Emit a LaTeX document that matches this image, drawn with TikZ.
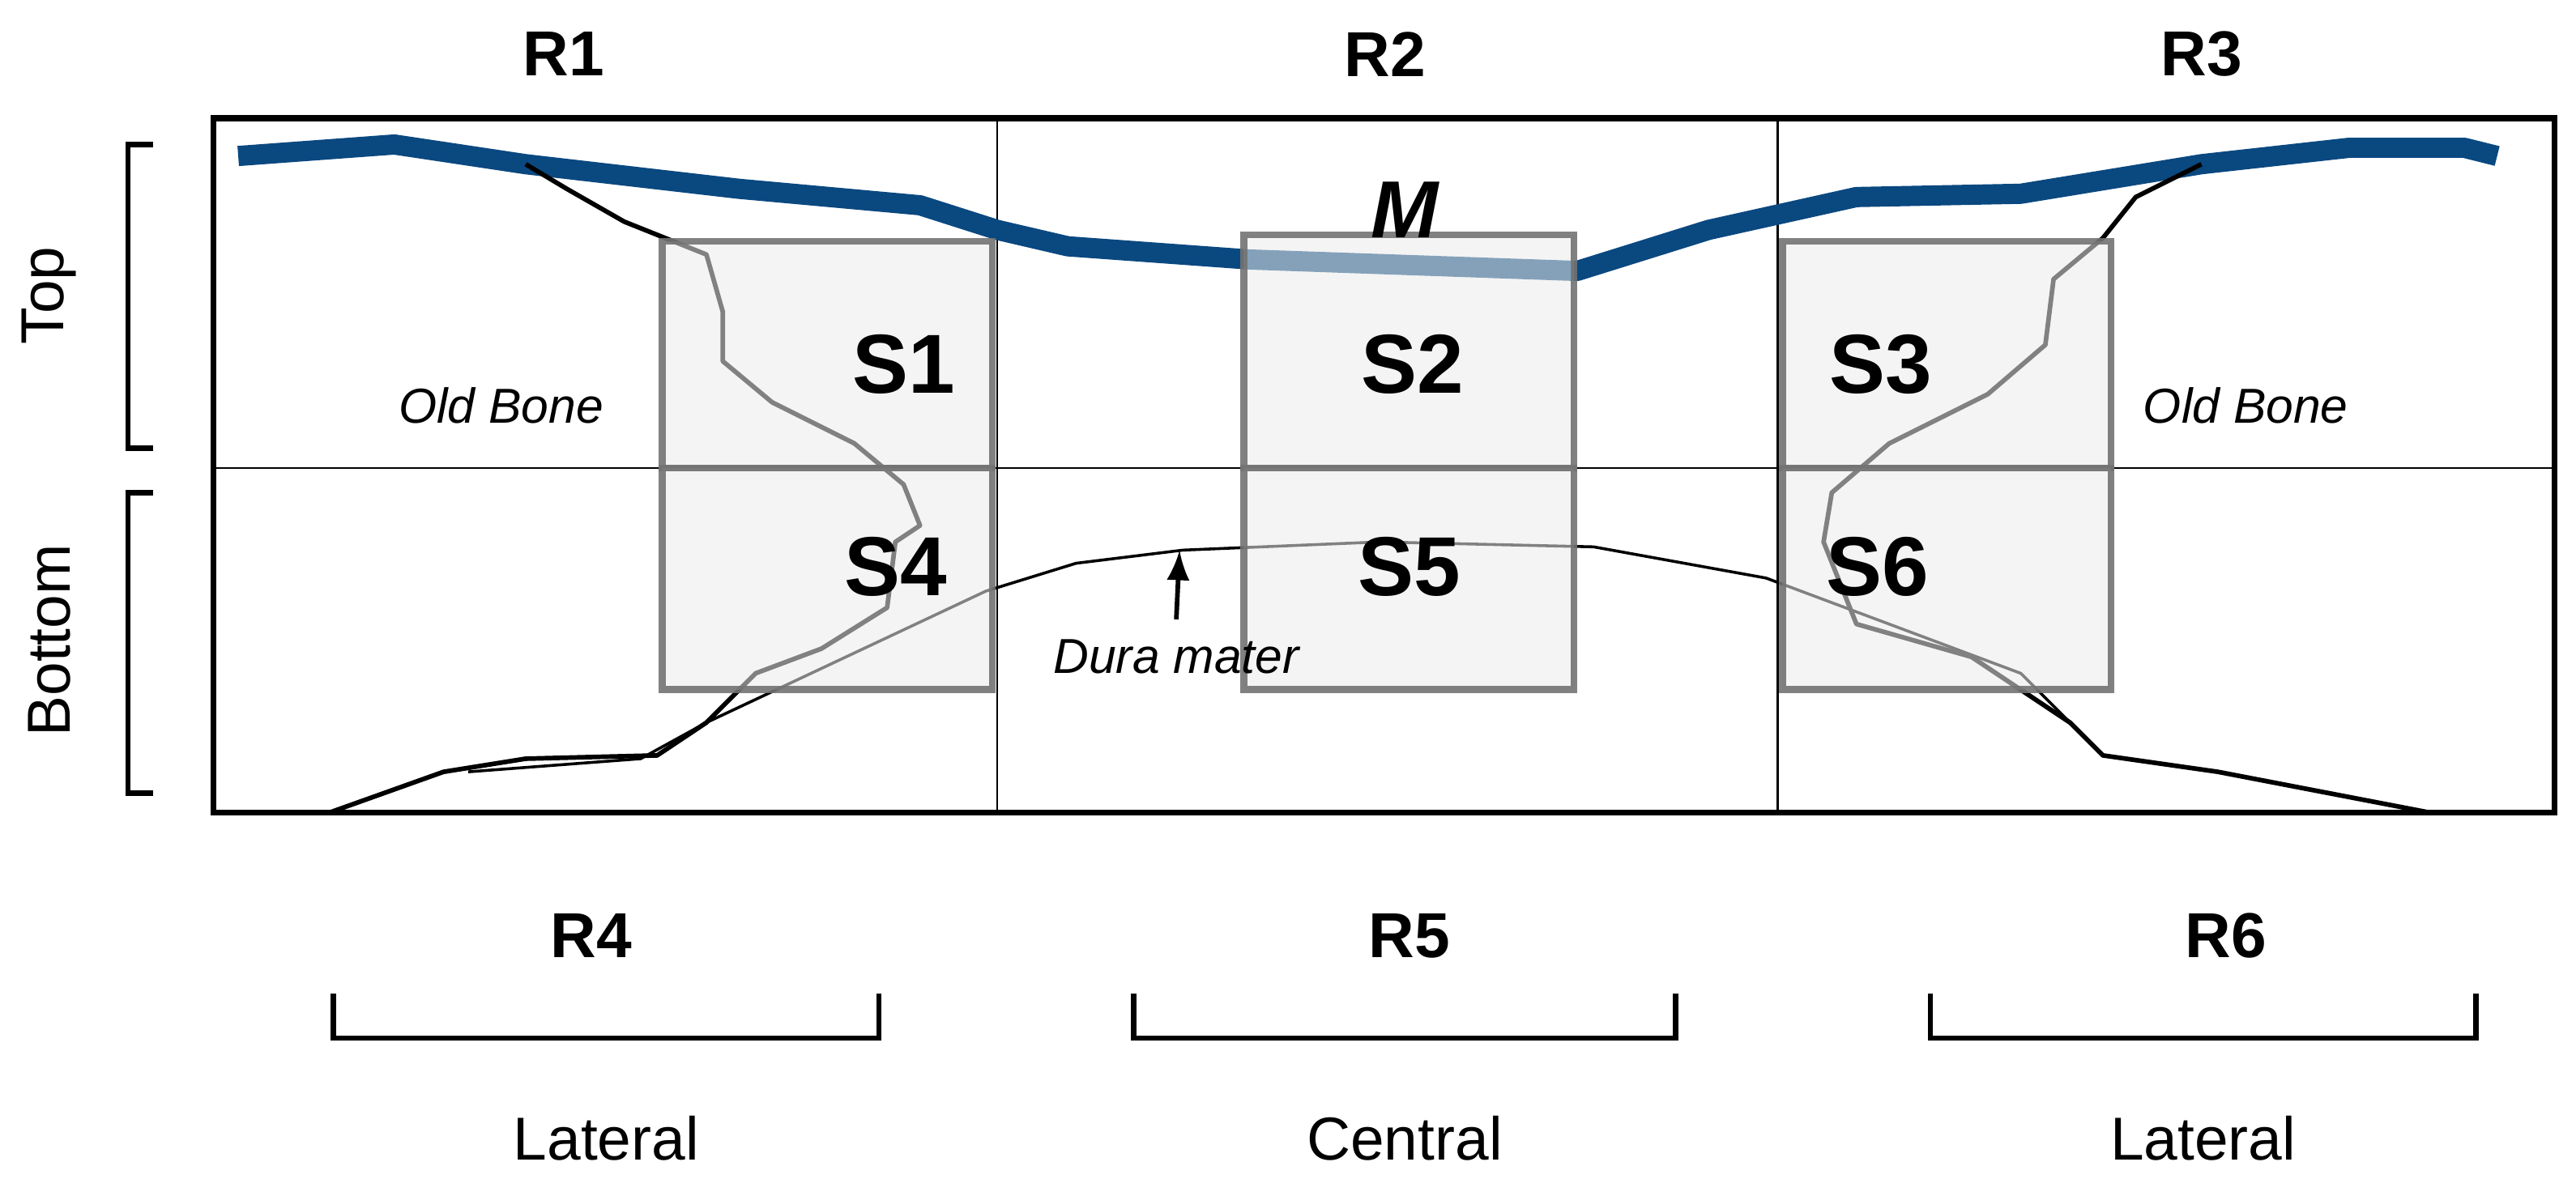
\documentclass[tikz,border=0pt]{standalone}
\usepackage{fontspec}
\setmainfont{Liberation Sans}
\usetikzlibrary{positioning}
\colorlet{boxFill}{black!8}
\colorlet{boxLine}{black!55}
\definecolor{membrane}{RGB}{10,72,128}
\begin{document}
\begin{tikzpicture}[
  x=0.01cm, y=-0.01cm,
  every region label/.style={font=\bfseries\fontsize{11}{13}\selectfont},
  every sample label/.style={font=\bfseries\fontsize{14.5}{16}\selectfont},
  every zone label/.style={font=\fontsize{10.5}{12}\selectfont},
  every sample/.style={fill=boxFill, draw=boxLine, line width=1.2pt, fill opacity=0.55, draw opacity=0.9},
  bone/.style={line width=0.8pt, line join=round},
  bracket/.style={line width=0.9pt}
]
\useasboundingbox (0,0) rectangle (1568,728);
% frame
\draw[line width=1pt] (130,72) rectangle (1555,495);
\draw (607,72) -- (607,495) (1082,72) -- (1082,495) (130,285) -- (1555,285);
% membrane
\draw[membrane, line width=3.5pt, line join=round]
  (145,95) -- (240,88) -- (320,100) -- (450,115) -- (560,125) -- (607,140) -- (650,150)
  -- (760,158) -- (960,165) -- (1040,140) -- (1130,120) -- (1230,118) -- (1340,100)
  -- (1430,90) -- (1500,90) -- (1520,95);
% old bone borders
\draw[bone] (320,100) -- (345,115) -- (380,135) -- (430,155) -- (440,190) -- (440,220)
  -- (470,245) -- (520,270) -- (550,295) -- (560,320) -- (545,330) -- (540,370)
  -- (500,395) -- (460,410) -- (430,440) -- (400,460) -- (320,462) -- (270,470) -- (200,495);
\draw[bone] (1340,100) -- (1300,120) -- (1280,145) -- (1250,170) -- (1245,210) -- (1210,240)
  -- (1150,270) -- (1115,300) -- (1110,330) -- (1130,380) -- (1200,400) -- (1260,440)
  -- (1280,460) -- (1350,470) -- (1480,495);
% dura mater
\draw[line width=0.5pt] (285,470) -- (390,462) -- (430,440) -- (600,360) -- (655,343)
  -- (720,335) -- (840,330) -- (970,333) -- (1075,352) -- (1230,410) -- (1260,440);
% samples
\foreach \n/\xa/\ya/\xb/\yb in {S1/403/147/604/285,S4/403/285/604/420,
  S2/757/143/958/285,S5/757/285/958/420,S3/1085/147/1285/285,S6/1085/285/1285/420}
  \draw[every sample] (\xa,\ya) rectangle (\xb,\yb);
\node[font=\itshape\fontsize{8.5}{10}\selectfont] (dura) at (716,400) {Dura mater};
\coordinate (duraTip) at (718,335);
\draw[-latex, line width=0.8pt] (dura.north) -- (duraTip);
\node[font=\itshape\fontsize{8.5}{10}\selectfont] (boneL) at (305,247) {Old Bone};
\node[font=\itshape\fontsize{8.5}{10}\selectfont] (boneR) at (1367,247) {Old Bone};
\node[font=\bfseries\itshape\fontsize{14}{16}\selectfont] (mem) at (855,128) {M};
% sample labels
\foreach \n/\x/\y in {S1/550/222,S2/860/222,S3/1145/222,S4/545/345,S5/858/345,S6/1143/345}
  \node[every sample label] (lab\n) at (\x,\y) {\n};
% region labels
\foreach \n/\x/\y in {R1/343/33,R2/843/33,R3/1340/33,R4/360/570,R5/858/570,R6/1355/570}
  \node[every region label] (lab\n) at (\x,\y) {\n};
% zone brackets
\foreach \n/\xa/\xb/\t in {latL/203/535/Lateral,cen/690/1020/Central,latR/1175/1507/Lateral}
{
  \draw[bracket] (\xa,605) -- (\xa,632) -- (\xb,632) -- (\xb,605);
  \node[every zone label] (\n) at ({(\xa+\xb)/2},693) {\t};
}
\draw[bracket] (93,88) -- (78,88) -- (78,273) -- (93,273);
\draw[bracket] (93,300) -- (78,300) -- (78,483) -- (93,483);
\node[every zone label, rotate=90] (top) at (30,180) {Top};
\node[every zone label, rotate=90] (bottom) at (30,390) {Bottom};
\end{tikzpicture}
\end{document}
